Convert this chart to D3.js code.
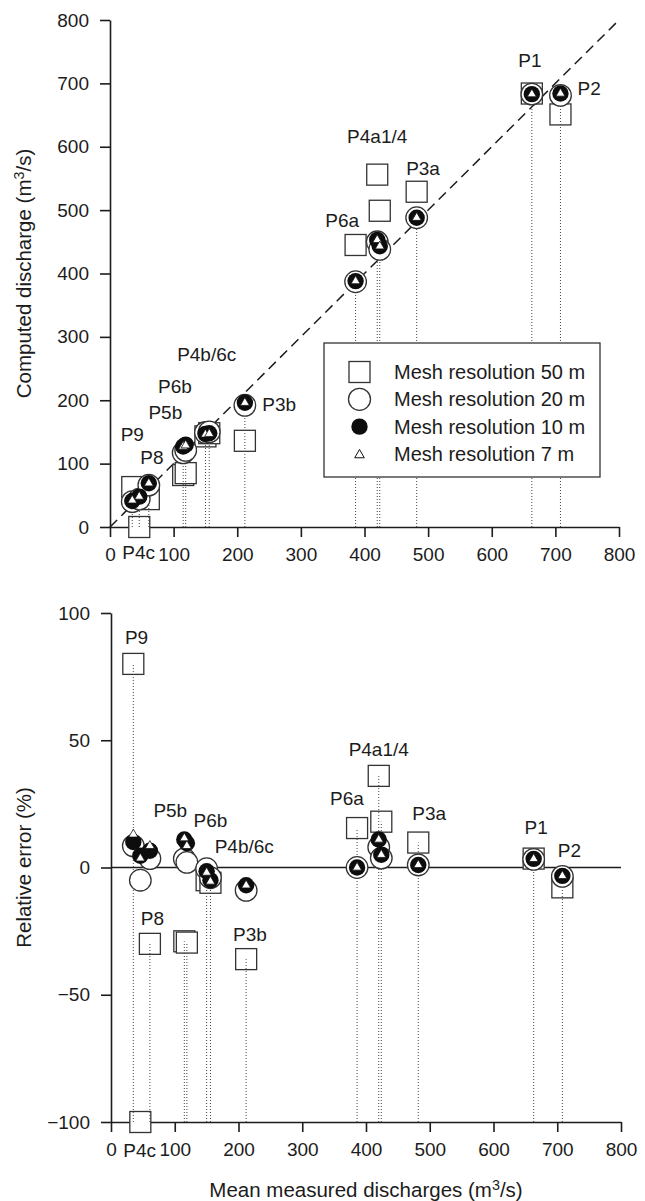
<!DOCTYPE html>
<html>
<head>
<meta charset="utf-8">
<script src="https://cdn.jsdelivr.net/npm/d3@7"></script>
<style>
body { margin: 0; background: #fff; }
</style>
</head>
<body>
<div id="chart"></div>
<script>
// gauging stations, in order of mean measured discharge
var stations = ["P9", "P4c", "P8", "P5b", "P6b", "P4b", "P6c", "P3b", "P6a", "P4a1", "P4a4", "P3a", "P1", "P2"];
var measured = [35, 46, 61, 115, 119, 150, 156, 212, 386, 420, 424, 482, 663, 708];

// computed discharge (m3/s) per mesh resolution
var comp50 = [63, 0, 44, 82, 85, 143, 148, 136, 445, 556, 499, 529, 684, 651];
var comp20 = [40, 44, 66, 117, 121, 149, 150, 192, 387, 450, 438, 488, 683, 681];
var comp10 = [41, 48, 69, 127, 130, 147, 148, 196, 388, 453, 443, 488, 683, 684];
var comp7  = [42, 48, 69, 127, 129, 146, 147, 196, 388, 453, 443, 488, 683, 684];

// relative error (%) per mesh resolution
var err50 = [80, -100, -30, -29, -29.5, -5, -6, -36, 15.5, 36, 18, 9.8, 3.5, -7.8];
var err20 = [8.5, -5, 3.5, 3.4, 2, -0.5, -4, -9, 0, 8, 3.7, 1, 3.2, -3.5];
var err10 = [10, 4.6, 6.6, 11, 9.5, -1.5, -5, -7, 0, 11, 5, 1, 3.4, -3.3];
var err7  = [13, 3.6, 8.5, 11.5, 8.5, -2, -5.5, -7, 0, 11, 5, 1, 3.4, -3.3];

var xTicks = [0, 100, 200, 300, 400, 500, 600, 700, 800];
var compTicks = [0, 100, 200, 300, 400, 500, 600, 700, 800];
var errTicks = [-100, -50, 0, 50, 100];

var meshNames = ["Mesh resolution 50 m", "Mesh resolution 20 m", "Mesh resolution 10 m", "Mesh resolution 7 m"];

// station labels [text, x, y] in data units
var topLabels = [["P1", 660, 726], ["P2", 753, 681], ["P4a1/4", 420, 606], ["P3a", 492, 555],
    ["P6a", 365, 473], ["P4b/6c", 152, 262], ["P6b", 102, 211], ["P5b", 87, 171],
    ["P9", 35, 135], ["P8", 66, 99], ["P3b", 266, 183], ["P4c", 45, -51]];
var botLabels = [["P9", 40, 88], ["P5b", 93, 20], ["P6b", 156, 16], ["P4b/6c", 209, 5.8],
    ["P4a1/4", 420, 43.7], ["P6a", 370, 24.7], ["P3a", 499, 18.8], ["P1", 667, 13.3],
    ["P2", 719, 4.2], ["P8", 65, -22.6], ["P3b", 218, -28.9], ["P4c", 45, -113.6]];

var width = 645, height = 1201;
var font = "'Liberation Sans', Arial, Helvetica, sans-serif";
var ink = "#1c1c1c";

var svg = d3.select("#chart")
    .append("svg")
    .attr("width", width)
    .attr("height", height)
    .style("font-family", font);

// scales for both panels
var xTop = d3.scaleLinear().domain([0, 800]).range([110, 619]);
var yTop = d3.scaleLinear().domain([0, 800]).range([527, 20]);
var xBot = d3.scaleLinear().domain([0, 800]).range([111, 621]);
var yBot = d3.scaleLinear().domain([-100, 100]).range([1122, 613]);

function styleAxis(g) {
    g.attr("font-size", 19).attr("font-family", font);
    g.select(".domain").attr("stroke", ink).attr("stroke-width", 1.6);
    g.selectAll(".tick line").attr("stroke", ink).attr("stroke-width", 1.6);
    g.selectAll(".tick text").attr("fill", ink);
}

function axes(xs, ys, yt) {
    svg.append("g")
        .attr("transform", "translate(0," + ys.range()[0] + ")")
        .call(d3.axisBottom(xs).tickValues(xTicks).tickSize(10).tickSizeOuter(0).tickPadding(11))
        .call(styleAxis);
    svg.append("g")
        .attr("transform", "translate(" + xs.range()[0] + ",0)")
        .call(d3.axisLeft(ys).tickValues(yt).tickSize(10).tickSizeOuter(0).tickPadding(11))
        .call(styleAxis);
}

function unitTitle(sel, before, after) {
    sel.append("tspan").text(before);
    sel.append("tspan").attr("dy", -7).attr("font-size", "0.7em").text("3");
    sel.append("tspan").attr("dy", 7).text(after);
}

// draw one panel's markers; yVals holds [50m, 20m, 10m, 7m], lineTop the top of each dotted guide
function markers(xs, ys, yVals, lineTop, lineFrom) {
    var g = svg.append("g");
    var idx = d3.range(stations.length);

    g.selectAll("rect").data(idx).enter().append("rect")
        .attr("x", function(i) { return xs(measured[i]) - 10.5; })
        .attr("y", function(i) { return ys(yVals[0][i]) - 10.5; })
        .attr("width", 21).attr("height", 21)
        .attr("fill", "#fff").attr("stroke", "#333").attr("stroke-width", 1.3);

    g.selectAll("line").data(idx).enter().append("line")
        .attr("x1", function(i) { return xs(measured[i]); })
        .attr("x2", function(i) { return xs(measured[i]); })
        .attr("y1", ys(lineFrom))
        .attr("y2", function(i) { return ys(lineTop[i]); })
        .attr("stroke", "#444").attr("stroke-width", 1)
        .attr("stroke-dasharray", "1,2");

    g.selectAll("circle.open").data(idx).enter().append("circle")
        .attr("class", "open")
        .attr("cx", function(i) { return xs(measured[i]); })
        .attr("cy", function(i) { return ys(yVals[1][i]); })
        .attr("r", 10.8)
        .attr("fill", "#fff").attr("stroke", "#333").attr("stroke-width", 1.3);

    g.selectAll("circle.full").data(idx).enter().append("circle")
        .attr("class", "full")
        .attr("cx", function(i) { return xs(measured[i]); })
        .attr("cy", function(i) { return ys(yVals[2][i]); })
        .attr("r", 8.2)
        .attr("fill", "#0d0d0d");

    g.selectAll("path").data(idx).enter().append("path")
        .attr("d", d3.symbol(d3.symbolTriangle, 36))
        .attr("transform", function(i) {
            return "translate(" + xs(measured[i]) + "," + ys(yVals[3][i]) + ")";
        })
        .attr("fill", "#fff").attr("stroke", "#111").attr("stroke-width", 0.8);
}

function labels(xs, ys, list) {
    svg.append("g").selectAll("text").data(list).enter().append("text")
        .attr("x", function(d) { return xs(d[1]); })
        .attr("y", function(d) { return ys(d[2]); })
        .attr("text-anchor", "middle")
        .attr("font-size", 19)
        .attr("fill", ink)
        .text(function(d) { return d[0]; });
}

// ---- top panel: computed vs measured ----
axes(xTop, yTop, compTicks);

svg.append("line")
    .attr("x1", xTop(0)).attr("y1", yTop(0))
    .attr("x2", xTop(800)).attr("y2", yTop(800))
    .attr("stroke", ink).attr("stroke-width", 1.5)
    .attr("stroke-dasharray", "10,6");

markers(xTop, yTop, [comp50, comp20, comp10, comp7], comp10, 0);
labels(xTop, yTop, topLabels);

// legend
var legend = svg.append("g").attr("transform", "translate(324,343)");
legend.append("rect")
    .attr("width", 276).attr("height", 134)
    .attr("fill", "#fff").attr("stroke", "#333").attr("stroke-width", 1.3);
var rowY = d3.scalePoint().domain(meshNames).range([29, 111]);
legend.append("rect").attr("x", 25).attr("y", rowY(meshNames[0]) - 10.5)
    .attr("width", 21).attr("height", 21)
    .attr("fill", "#fff").attr("stroke", "#333").attr("stroke-width", 1.3);
legend.append("circle").attr("cx", 35.5).attr("cy", rowY(meshNames[1])).attr("r", 11)
    .attr("fill", "#fff").attr("stroke", "#333").attr("stroke-width", 1.3);
legend.append("circle").attr("cx", 35.5).attr("cy", rowY(meshNames[2])).attr("r", 8.2)
    .attr("fill", "#0d0d0d");
legend.append("path").attr("d", d3.symbol(d3.symbolTriangle, 40))
    .attr("transform", "translate(35.5," + (rowY(meshNames[3]) + 1) + ")")
    .attr("fill", "#fff").attr("stroke", "#111").attr("stroke-width", 1);
legend.selectAll("text.item").data(meshNames).enter().append("text")
    .attr("class", "item")
    .attr("x", 70)
    .attr("y", function(d) { return rowY(d); })
    .attr("dy", "0.35em")
    .attr("font-size", 20)
    .attr("fill", ink)
    .text(function(d) { return d; });

var yTitle1 = svg.append("text")
    .attr("transform", "translate(31," + ((yTop(0) + yTop(800)) / 2) + ") rotate(-90)")
    .attr("text-anchor", "middle")
    .attr("font-size", 20.5)
    .attr("fill", ink);
unitTitle(yTitle1, "Computed discharge (m", "/s)");

// ---- bottom panel: relative error ----
axes(xBot, yBot, errTicks);

svg.append("line")
    .attr("x1", xBot(0)).attr("x2", xBot(800))
    .attr("y1", yBot(0)).attr("y2", yBot(0))
    .attr("stroke", ink).attr("stroke-width", 1.6);

markers(xBot, yBot, [err50, err20, err10, err7], err50, -100);
labels(xBot, yBot, botLabels);

svg.append("text")
    .attr("transform", "translate(31," + yBot(0) + ") rotate(-90)")
    .attr("text-anchor", "middle")
    .attr("font-size", 20.5)
    .attr("fill", ink)
    .text("Relative error (%)");

var xTitle = svg.append("text")
    .attr("x", (xBot(0) + xBot(800)) / 2)
    .attr("y", 1197)
    .attr("text-anchor", "middle")
    .attr("font-size", 20.5)
    .attr("fill", ink);
unitTitle(xTitle, "Mean measured discharges (m", "/s)");
</script>
</body>
</html>
